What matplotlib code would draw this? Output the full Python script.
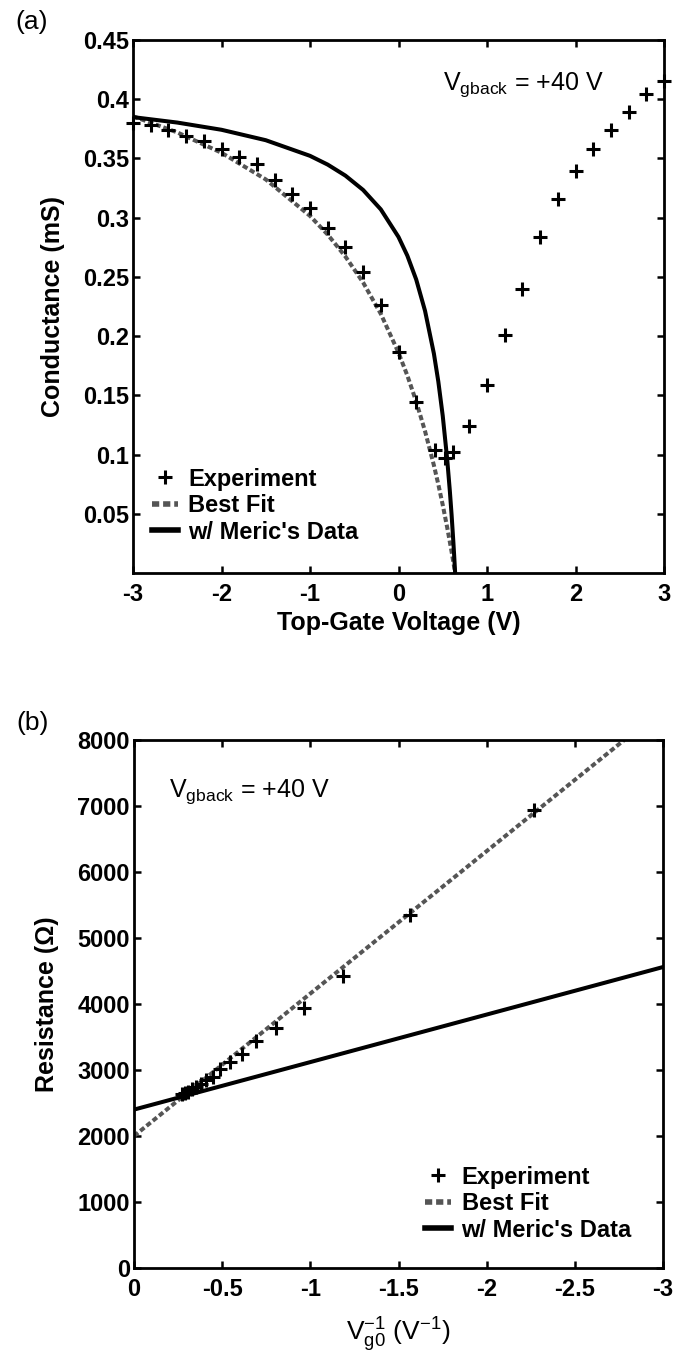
"""
Graphene FET - conductance vs top-gate voltage (a)
and resistance vs inverse gate overdrive (b), Vgback = +40 V
"""

import matplotlib
matplotlib.use('Agg')
import matplotlib.pyplot as plt
from matplotlib.ticker import StrMethodFormatter


# =============================================================================
# DATA
# =============================================================================

# --- panel (a): conductance (mS) vs top-gate voltage (V) ---
exp_vtg = [-3.0, -2.8, -2.6, -2.4, -2.2, -2.0, -1.8, -1.6, -1.4, -1.2, -1.0,
           -0.8, -0.6, -0.4, -0.2, 0.0, 0.2, 0.41, 0.52, 0.62, 0.8, 1.0,
           1.2, 1.4, 1.6, 1.8, 2.0, 2.2, 2.4, 2.6, 2.8, 3.0]
exp_g = [0.380, 0.378, 0.374, 0.369, 0.365, 0.358, 0.351, 0.345, 0.332, 0.320,
         0.308, 0.291, 0.275, 0.254, 0.226, 0.187, 0.144, 0.104, 0.097, 0.102,
         0.124, 0.159, 0.201, 0.240, 0.284, 0.316, 0.339, 0.358, 0.374, 0.389,
         0.404, 0.415]

curve_vtg = [-3.0, -2.5, -2.0, -1.5, -1.0, -0.8, -0.6, -0.4, -0.2, 0.0, 0.1,
             0.2, 0.3, 0.4, 0.45, 0.5, 0.55, 0.58, 0.6, 0.62, 0.63, 0.64]
fit_g = [0.3856, 0.3720, 0.3548, 0.3323, 0.3015, 0.2857, 0.2672, 0.2453,
         0.2188, 0.1860, 0.1667, 0.1447, 0.1197, 0.0909, 0.0748, 0.0574,
         0.0385, 0.0263, 0.0179, 0.0091, 0.0046, 0.0]
meric_g = [0.3849, 0.3803, 0.3742, 0.3654, 0.3522, 0.3448, 0.3355, 0.3234,
           0.3070, 0.2837, 0.2679, 0.2478, 0.2213, 0.1852, 0.1616, 0.1326,
           0.0962, 0.0694, 0.0490, 0.0260, 0.0134, 0.0]

# --- panel (b): resistance (Ohm) vs 1/Vg0 (1/V) ---
exp_inv = [-0.275, -0.290, -0.309, -0.329, -0.352, -0.379, -0.410, -0.446,
           -0.490, -0.543, -0.610, -0.694, -0.806, -0.962, -1.185, -1.563, -2.27]
exp_r = [2632, 2646, 2674, 2710, 2740, 2793, 2849, 2899, 3012, 3125, 3247,
         3436, 3636, 3937, 4425, 5348, 6944]

fit_inv = [0.0, -2.78]
fit_r = [2000, 8000]
meric_inv = [0.0, -3.0]
meric_r = [2400, 4560]

a_xticks = [-3, -2, -1, 0, 1, 2, 3]
a_yticks = [0.05, 0.1, 0.15, 0.2, 0.25, 0.3, 0.35, 0.4, 0.45]
b_xticks = [0, -0.5, -1, -1.5, -2, -2.5, -3]
b_yticks = [0, 1000, 2000, 3000, 4000, 5000, 6000, 7000, 8000]

labels = ['Experiment', 'Best Fit', "w/ Meric's Data"]


# =============================================================================
# STYLE
# =============================================================================

plt.rcParams['font.family'] = ['Liberation Sans', 'DejaVu Sans']
plt.rcParams['mathtext.default'] = 'regular'
plt.rcParams['axes.unicode_minus'] = False
plt.rcParams['xtick.direction'] = 'in'
plt.rcParams['ytick.direction'] = 'in'
plt.rcParams['xtick.top'] = True
plt.rcParams['ytick.right'] = True

FS = 17
FIT_COLOR = '#555555'
LW = 2.9


def style_axes(ax):
    for sp in ax.spines.values():
        sp.set_linewidth(2.0)
    ax.tick_params(which='both', length=5, width=1.8, labelsize=FS)
    for lab in ax.get_xticklabels() + ax.get_yticklabels():
        lab.set_fontweight('bold')
    ax.tick_params(axis='x', pad=7)
    ax.tick_params(axis='y', pad=3)


def draw_panel(ax, x_exp, y_exp, x_fit, y_fit, x_mer, y_mer):
    h_fit, = ax.plot(x_fit, y_fit, color=FIT_COLOR, lw=LW, dashes=[1.3, 0.7],
                     dash_capstyle='butt')
    h_mer, = ax.plot(x_mer, y_mer, color='black', lw=LW)
    h_exp, = ax.plot(x_exp, y_exp, linestyle='none', marker='+', color='black',
                     markersize=9.5, markeredgewidth=2.2, clip_on=False, zorder=5)
    return [h_exp, h_fit, h_mer]


def add_legend(ax, handles, anchor):
    leg = ax.legend(handles, labels, loc='lower left', bbox_to_anchor=anchor,
                    frameon=False, prop=dict(weight='bold', size=FS),
                    handlelength=1.1, handletextpad=0.45, labelspacing=0.15,
                    borderaxespad=0, borderpad=0, numpoints=1)
    for ln in leg.get_lines()[1:]:
        ln.set_linewidth(4.0)
    return leg


# =============================================================================
# FIGURE
# =============================================================================

fig = plt.figure(figsize=(6.73, 13.53), dpi=100)

# --- (a) ---
ax_a = fig.add_axes([133 / 673, 780 / 1353, 531 / 673, 533 / 1353])
handles = draw_panel(ax_a, exp_vtg, exp_g, curve_vtg, fit_g, curve_vtg, meric_g)
ax_a.set_xlim(-3, 3)
ax_a.set_ylim(0, 0.45)
ax_a.set_xticks(a_xticks)
ax_a.set_yticks(a_yticks)
ax_a.xaxis.set_major_formatter(StrMethodFormatter('{x:g}'))
ax_a.yaxis.set_major_formatter(StrMethodFormatter('{x:g}'))
style_axes(ax_a)
ax_a.set_xlabel('Top-Gate Voltage (V)', fontsize=FS + 1, fontweight='bold', va='top')
ax_a.set_ylabel('Conductance (mS)', fontsize=FS + 1, fontweight='bold')
ax_a.xaxis.set_label_coords(0.5, -0.072)
ax_a.yaxis.set_label_coords(-0.128, 0.5)
ax_a.text(0.50, 0.408, r'V$_{gback}$ = +40 V', fontsize=FS + 1, va='baseline', ha='left')
add_legend(ax_a, handles, (0.035, 0.055))
fig.text(32 / 673, 1 - 22 / 1353, '(a)', fontsize=19, ha='center', va='center')

# --- (b) ---
ax_b = fig.add_axes([134 / 673, 85 / 1353, 529 / 673, 528 / 1353])
handles = draw_panel(ax_b, exp_inv, exp_r, fit_inv, fit_r, meric_inv, meric_r)
ax_b.set_xlim(0, -3)
ax_b.set_ylim(0, 8000)
ax_b.set_xticks(b_xticks)
ax_b.set_yticks(b_yticks)
ax_b.xaxis.set_major_formatter(StrMethodFormatter('{x:g}'))
ax_b.yaxis.set_major_formatter(StrMethodFormatter('{x:g}'))
style_axes(ax_b)
ax_b.set_xlabel(r'V$_{g0}^{-1}$ (V$^{-1}$)', fontsize=FS + 2, va='top')
ax_b.set_ylabel('Resistance (\u03a9)', fontsize=FS + 1, fontweight='bold')
ax_b.xaxis.set_label_coords(0.5, -0.09)
ax_b.yaxis.set_label_coords(-0.142, 0.5)
ax_b.text(-0.20, 7136, r'V$_{gback}$ = +40 V', fontsize=FS + 1, va='baseline', ha='left')
add_legend(ax_b, handles, (0.55, 0.05))
fig.text(33 / 673, 1 - 723 / 1353, '(b)', fontsize=19, ha='center', va='center')

fig.savefig('out.png', dpi=100)
